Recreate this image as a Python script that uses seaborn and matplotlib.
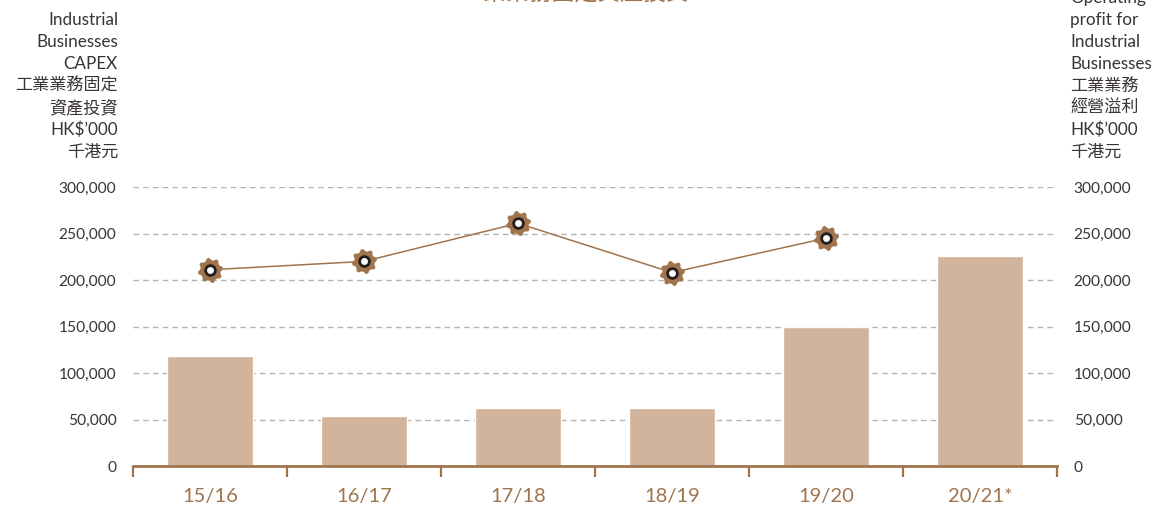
import numpy as np
import pandas as pd
import seaborn as sns
import matplotlib.pyplot as plt
from matplotlib.path import Path
from matplotlib.ticker import FuncFormatter, FixedLocator

years = ["15/16", "16/17", "17/18", "18/19", "19/20", "20/21*"]
capex = [118000, 54000, 62000, 62000, 149000, 226000]
profit = [211000, 220000, 261000, 208000, 245000, np.nan]
y_ticks = [0, 50000, 100000, 150000, 200000, 250000, 300000]

left_label = ["Industrial", "Businesses", "CAPEX", "工業業務固定", "資產投資", "HK$’000", "千港元"]
right_label = ["Operating", "profit for", "Industrial", "Businesses", "工業業務", "經營溢利", "HK$’000", "千港元"]
title = "工業業務固定資產投資"

BROWN = "#a0744c"
BAR = "#d1b49b"
TEXT = "#3a3433"

sns.set_theme(style="white")
plt.rcParams["font.family"] = ["Lato", "Noto Sans CJK TC", "DejaVu Sans"]

df = pd.DataFrame({"year": years, "capex": capex, "profit": profit})


def gear_path(teeth=8, r_out=1.0, r_in=0.82):
    # small cog outline for the line markers
    verts = []
    n = teeth * 4
    for i in range(n):
        a = 2 * np.pi * (i + 0.5) / n
        r = r_out if (i % 4) < 2 else r_in
        verts.append((r * np.cos(a), r * np.sin(a)))
    verts.append(verts[0])
    codes = [Path.MOVETO] + [Path.LINETO] * (n - 1) + [Path.CLOSEPOLY]
    return Path(verts, codes)


fig = plt.figure(figsize=(11.55, 5.07), dpi=100)
ax = fig.add_axes([133 / 1155, 41 / 507, 924 / 1155, 279 / 507])

ax.set_axisbelow(True)
ax.yaxis.grid(True, color="#b3b3b3", linestyle=(0, (4, 3)), linewidth=1.0)
sns.barplot(data=df, x="year", y="capex", order=years, color=BAR, width=0.56,
            saturation=1, ax=ax, zorder=2)

# operating profit line with cog markers
xpos = np.arange(len(years))
ax.plot(xpos, df["profit"], color=BROWN, linewidth=1.1, zorder=3)
ax.plot(xpos, df["profit"], linestyle="none", marker=gear_path(), markersize=18,
        markerfacecolor=BROWN, markeredgewidth=0, zorder=4, clip_on=False)
ax.plot(xpos, df["profit"], linestyle="none", marker="o", markersize=7,
        markerfacecolor="white", markeredgecolor="#231f20", markeredgewidth=2.0,
        zorder=5, clip_on=False)

ax.set_xlim(-0.5, 5.5)
ax.set_ylim(0, 300000)
ax.set_xlabel("")
ax.set_ylabel("")
ax.set_yticks(y_ticks)
fmt = FuncFormatter(lambda v, _: f"{int(v):,}")
ax.yaxis.set_major_formatter(fmt)
ax.tick_params(axis="y", length=0, pad=12, labelsize=11.2, labelcolor=TEXT)
ax.set_xticks(xpos)
ax.set_xticklabels(years)
ax.tick_params(axis="x", which="major", length=0, pad=16, labelsize=14.5, labelcolor=BROWN)
ax.xaxis.set_minor_locator(FixedLocator(np.arange(-0.5, 6, 1)))
ax.tick_params(axis="x", which="minor", bottom=True, length=8, width=1.6,
               color=BROWN, direction="out")

for side in ["left", "right", "top"]:
    ax.spines[side].set_visible(False)
ax.spines["bottom"].set_color(BROWN)
ax.spines["bottom"].set_linewidth(2)

ax2 = ax.twinx()
ax2.set_ylim(0, 300000)
ax2.set_yticks(y_ticks)
ax2.yaxis.set_major_formatter(fmt)
ax2.tick_params(axis="y", length=0, pad=12, labelsize=11.2, labelcolor=TEXT)
ax2.grid(False)
for side in ["left", "right", "top", "bottom"]:
    ax2.spines[side].set_visible(False)

for i, line in enumerate(left_label):
    fig.text(118 / 1155, 1 - (20 + i * 22) / 507, line, ha="right", va="center",
             fontsize=12.3, color=TEXT)
for i, line in enumerate(right_label):
    fig.text(1070 / 1155, 1 - (-2 + i * 22) / 507, line, ha="left", va="center",
             fontsize=12.3, color=TEXT)

fig.text(0.498, 1 + 7 / 507, title, ha="center", va="center", fontsize=16.5,
         color=BROWN)

fig.savefig("out.png", dpi=100)
